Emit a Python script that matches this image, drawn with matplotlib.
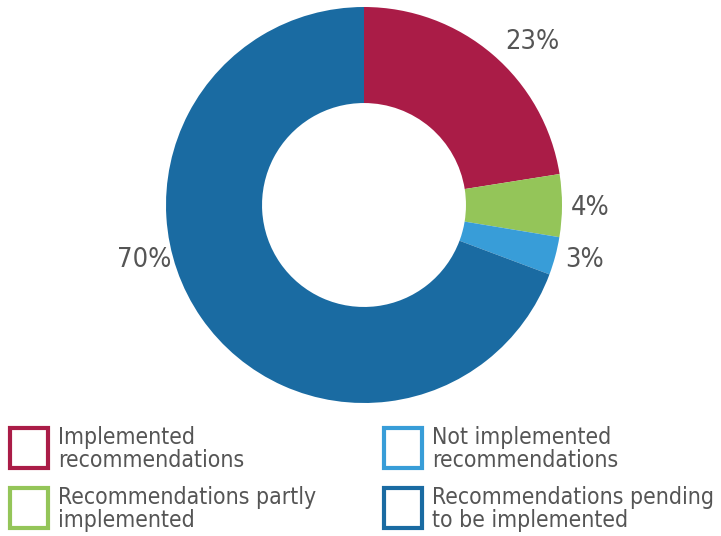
import matplotlib
matplotlib.use('Agg')
import matplotlib.pyplot as plt
from matplotlib.patches import Rectangle

# Dữ liệu biểu đồ
labels = ['Implemented\nrecommendations', 'Recommendations partly\nimplemented',
          'Not implemented\nrecommendations', 'Recommendations pending\nto be implemented']
# tỉ lệ các lát đo trên hình (nhãn được làm tròn)
values = [22.5, 5.1, 3.1, 69.3]
colors = ['#AA1C47', '#94C559', '#389DD8', '#1A6BA2']
pct_text = ['23%', '4%', '3%', '70%']

plt.rcParams['font.family'] = ['DejaVu Sans']
plt.rcParams['font.stretch'] = 'condensed'
text_color = '#555555'

W, H = 721, 536
fig = plt.figure(figsize=(W / 100, H / 100), dpi=100)

# Vùng vẽ vòng tròn
cx, cy, r = 364, 205, 198
ax = fig.add_axes([(cx - r) / W, (H - cy - r) / H, 2 * r / W, 2 * r / H])
ax.pie(values, colors=colors, startangle=90, counterclock=False, radius=1,
       wedgeprops=dict(width=0.485, linewidth=0))
ax.set_xlim(-1, 1)
ax.set_ylim(-1, 1)
ax.set_aspect('equal')
ax.axis('off')

# Nhãn phần trăm (toạ độ pixel)
pct_pos = [(532, 42), (590, 208), (585, 260), (144, 260)]
for t, (px, py) in zip(pct_text, pct_pos):
    fig.text(px / W, 1 - py / H, t, fontsize=19.5, color=text_color,
             ha='center', va='center')

# Chú thích
legend_pos = [(10, 428), (10, 488), (384, 428), (384, 488)]
for lab, col, (px, py) in zip(labels, colors, legend_pos):
    fig.patches.append(Rectangle((px / W, 1 - (py + 40) / H), 38 / W, 40 / H,
                                 transform=fig.transFigure, fill=False,
                                 edgecolor=col, linewidth=3))
    fig.text((px + 48) / W, 1 - (py + 21) / H, lab, fontsize=16.5, color=text_color,
             ha='left', va='center', linespacing=0.95)

fig.savefig('out.png', dpi=100)
